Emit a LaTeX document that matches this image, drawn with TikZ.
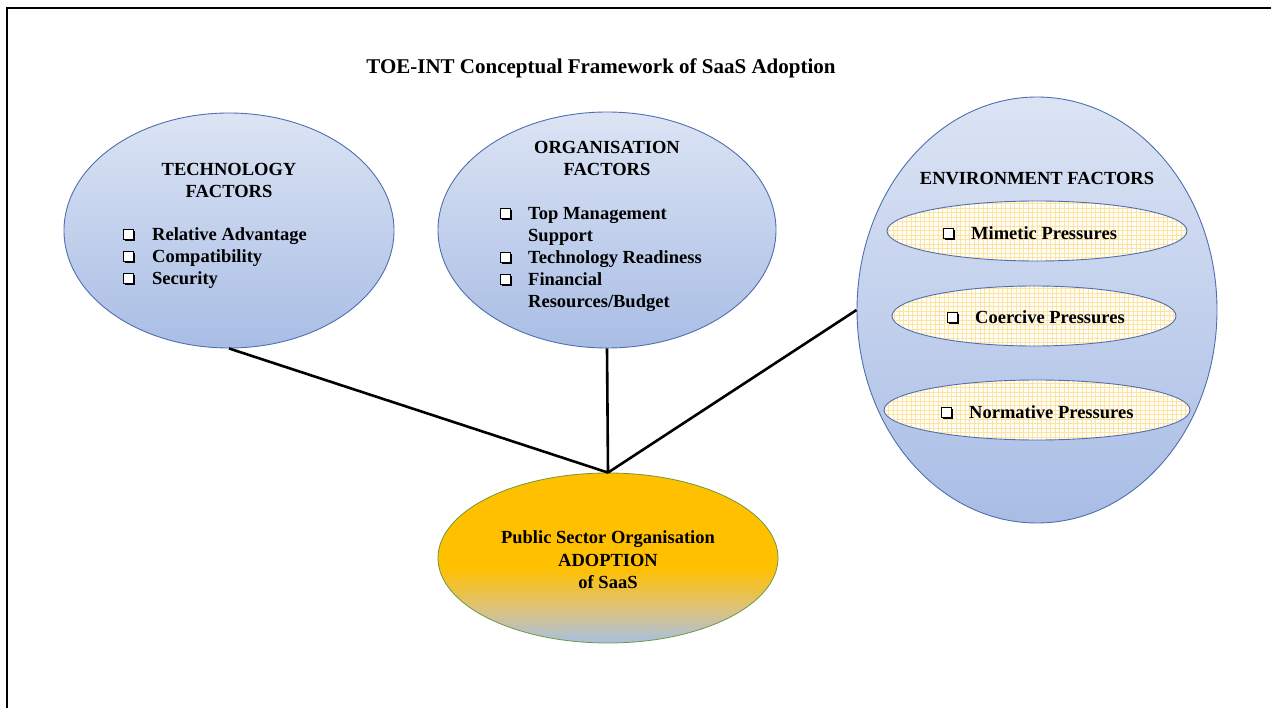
\documentclass[tikz,border=0pt]{standalone}
\usepackage{fontspec}
\setmainfont{Liberation Serif}
\usetikzlibrary{shapes.geometric}

\definecolor{blueTop}{HTML}{DCE4F4}
\definecolor{blueBot}{HTML}{A9BDE5}
\definecolor{blueEdge}{HTML}{4F6FAE}
\definecolor{gold}{HTML}{FFC000}
\definecolor{goldMid}{HTML}{DCC27E}
\definecolor{adoptBot}{HTML}{A7C0E4}
\definecolor{greenEdge}{HTML}{6E9A3C}
\definecolor{gridLine}{HTML}{FCE3A4}
\definecolor{gridBase}{HTML}{FFFEF6}

\pgfdeclareverticalshading{adoptshade}{100bp}{%
  color(0bp)=(adoptBot); color(25bp)=(adoptBot); color(35bp)=(goldMid);
  color(47bp)=(gold); color(100bp)=(gold)}

\tikzset{
  factor/.style={ellipse, draw=blueEdge, line width=0.9pt, inner sep=0pt,
    top color=blueTop, bottom color=blueBot},
  pressure/.style={ellipse, draw=blueEdge, line width=0.9pt, inner sep=0pt,
    fill=gridBase, minimum height=60pt,
    path picture={\draw[gridLine, line width=1pt]
      (path picture bounding box.south west) grid[step=4.5pt]
      (path picture bounding box.north east);}},
  adopt/.style={ellipse, draw=greenEdge, line width=0.8pt, inner sep=0pt,
    shading=adoptshade},
  link/.style={line width=2.6pt, black},
  lbl/.style={font=\fontsize{18.5}{22}\selectfont\bfseries, inner sep=0pt},
  item/.style={lbl, anchor=mid west, yshift=-5pt},
  pics/chk/.style={code={
    \fill[black] (-3.8,-2.3) rectangle (6.4,7.9);
    \filldraw[fill=white, draw=black, line width=1pt] (-5.2,-3.7) rectangle (4.6,6.1);
  }}
}

\begin{document}
\begin{tikzpicture}[x=1pt, y=-1pt]
\useasboundingbox (0,0) rectangle (1271,708);

% outer frame (top and left edges)
\draw[line width=2.2pt] (7,708) -- (7,8) -- (1271,8);

% heading
\node[lbl, font=\fontsize{21}{24}\selectfont\bfseries] (title) at (601,68)
  {TOE-INT Conceptual Framework of SaaS Adoption};

% factor ellipses
\node[factor, minimum width=330pt, minimum height=235pt] (tech) at (229,230.5) {};
\node[factor, minimum width=338pt, minimum height=236pt] (org) at (607,230) {};
\node[factor, minimum width=360pt, minimum height=426pt] (env) at (1037,310) {};
\node[adopt, minimum width=340pt, minimum height=170pt] (adopt) at (608,558) {};

% connectors to the adoption ellipse
\draw[link] (tech.south) -- (adopt.north);
\draw[link] (org.south) -- (adopt.north);
\draw[link] (env.west) -- (adopt.north);

% technology
\node[lbl] (techA) at (229,169) {TECHNOLOGY};
\node[lbl] (techB) at (229,191) {FACTORS};
\pic at (129,233) {chk};
\node[item] (t1) at (152,233) {Relative Advantage};
\pic at (129,255) {chk};
\node[item] (t2) at (152,255) {Compatibility};
\pic at (129,277) {chk};
\node[item] (t3) at (152,277) {Security};

% organisation
\node[lbl] (orgA) at (607,147) {ORGANISATION};
\node[lbl] (orgB) at (607,169) {FACTORS};
\pic at (506,212) {chk};
\node[item] (o1) at (528,212) {Top Management};
\node[item] (o1b) at (528,234) {Support};
\pic at (506,256) {chk};
\node[item] (o2) at (528,256) {Technology Readiness};
\pic at (506,278) {chk};
\node[item] (o3) at (528,278) {Financial};
\node[item] (o3b) at (528,300) {Resources/Budget};

% environment
\node[lbl] (envA) at (1037,179) {ENVIRONMENT FACTORS};
\node[pressure, minimum width=300pt] (mim) at (1037,231) {};
\node[pressure, minimum width=284pt] (coe) at (1034,316) {};
\node[pressure, minimum width=306pt] (nor) at (1037,410) {};
\pic at (949,232) {chk};
\node[item] (e1) at (971,232) {Mimetic Pressures};
\pic at (953,316) {chk};
\node[item] (e2) at (975,316) {Coercive Pressures};
\pic at (947,411) {chk};
\node[item] (e3) at (969,411) {Normative Pressures};

% adoption
\node[lbl] (ad1) at (608,539.5) {Public Sector Organisation};
\node[lbl] (ad2) at (608,560.5) {ADOPTION};
\node[lbl] (ad3) at (608,582.5) {of SaaS};
\end{tikzpicture}
\end{document}
